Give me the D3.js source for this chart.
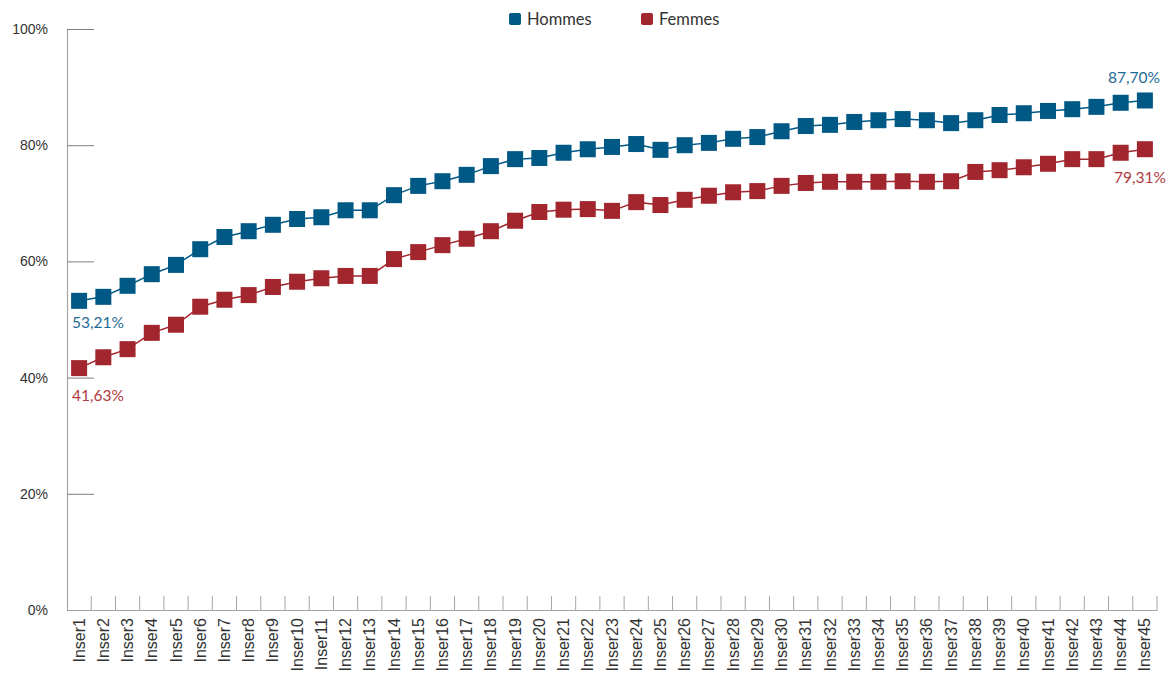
<!DOCTYPE html>
<html>
<head>
<meta charset="utf-8">
<script src="https://cdn.jsdelivr.net/npm/d3@7"></script>
<style>
  body { margin: 0; background: #fff; }
  svg { font-family: Lato, "Open Sans", sans-serif; }
</style>
</head>
<body>
<svg width="1171" height="673"></svg>
<script>
// Categories
const categories = d3.range(1, 46).map((i) => 'Inser' + i);

// Series values (%)
const hommes = [
    53.21, 53.9, 55.8, 57.8, 59.4, 62.1, 64.2, 65.2, 66.3, 67.3,
    67.6, 68.8, 68.8, 71.4, 73.0, 73.8, 74.9, 76.4, 77.6, 77.8,
    78.7, 79.3, 79.7, 80.2, 79.2, 80.0, 80.4, 81.1, 81.4, 82.4,
    83.3, 83.5, 84.0, 84.3, 84.5, 84.3, 83.8, 84.3, 85.2, 85.5,
    85.9, 86.2, 86.6, 87.3, 87.70
];
const femmes = [
    41.63, 43.5, 44.9, 47.7, 49.1, 52.2, 53.4, 54.2, 55.6, 56.5,
    57.1, 57.5, 57.5, 60.4, 61.6, 62.8, 63.9, 65.2, 67.0, 68.5,
    68.9, 69.0, 68.7, 70.2, 69.7, 70.6, 71.3, 71.9, 72.1, 73.0,
    73.5, 73.7, 73.7, 73.7, 73.8, 73.7, 73.8, 75.4, 75.7, 76.2,
    76.8, 77.6, 77.6, 78.7, 79.31
];

// Y tick labels
const yTicks = [0, 20, 40, 60, 80, 100];

const series = [
    { name: 'Hommes', values: hommes, color: '#005885' },
    { name: 'Femmes', values: femmes, color: '#a2262e' },
];

const svg = d3.select('svg');
const margin = { left: 67, right: 14, top: 29, bottom: 63 };
const width = 1171, height = 673;

// Scales
const x = d3.scaleBand().domain(categories).range([margin.left, width - margin.right]);
const y = d3.scaleLinear().domain([0, 100]).range([height - margin.bottom, margin.top]);

// Y axis
const yAxis = svg.append('g').attr('transform', `translate(${margin.left},0)`)
    .call(d3.axisRight(y).tickValues(yTicks).tickSize(27).tickFormat((d) => d + '%'));
yAxis.select('.domain').attr('stroke', '#a6a6a6').attr('stroke-width', 1.2);
yAxis.selectAll('.tick line').attr('stroke', '#7f7f7f');
yAxis.selectAll('.tick text')
    .attr('x', -19).attr('dy', '0.32em').attr('text-anchor', 'end')
    .attr('fill', '#333').style('font-size', '14px');

// X axis
const xAxis = svg.append('g').attr('transform', `translate(0,${y(0)})`)
    .call(d3.axisBottom(x).tickSize(0).tickSizeOuter(0));
xAxis.select('.domain').attr('stroke', '#a6a6a6').attr('stroke-width', 1.2);
xAxis.selectAll('.tick text')
    .attr('transform', 'rotate(-90)')
    .attr('x', -8).attr('y', 0).attr('dy', '0.35em')
    .attr('text-anchor', 'end')
    .attr('fill', '#333').style('font-size', '16px');

// Category separators
svg.append('g').selectAll('line')
    .data(categories)
    .join('line')
    .attr('x1', (d) => x(d) + x.bandwidth())
    .attr('x2', (d) => x(d) + x.bandwidth())
    .attr('y1', y(0))
    .attr('y2', y(0) - 14)
    .attr('stroke', '#a6a6a6');

// Lines and markers
const line = d3.line()
    .x((d, i) => x(categories[i]) + x.bandwidth() / 2)
    .y((d) => y(d));

series.forEach((s) => {
    svg.append('path')
        .datum(s.values)
        .attr('fill', 'none')
        .attr('stroke', s.color)
        .attr('stroke-width', 1.5)
        .attr('d', line);
    svg.append('g').selectAll('rect')
        .data(s.values)
        .join('rect')
        .attr('x', (d, i) => x(categories[i]) + x.bandwidth() / 2 - 8)
        .attr('y', (d) => y(d) - 8)
        .attr('width', 16)
        .attr('height', 16)
        .attr('fill', s.color);
});

// Data labels on first and last points
const fmt = (v) => v.toFixed(2).replace('.', ',') + '%';
const first = categories[0], last = categories[categories.length - 1];
const labels = [
    { text: fmt(hommes[0]), x: x(first) + 5, y: y(hommes[0]) + 27, anchor: 'start', color: '#1f6a94' },
    { text: fmt(femmes[0]), x: x(first) + 5, y: y(femmes[0]) + 33, anchor: 'start', color: '#b03a40' },
    { text: fmt(hommes[44]), x: x(last) + x.bandwidth() + 3, y: y(hommes[44]) - 17, anchor: 'end', color: '#1f6a94' },
    { text: fmt(femmes[44]), x: x(last) + x.bandwidth() + 9, y: y(femmes[44]) + 34, anchor: 'end', color: '#b03a40' },
];
svg.append('g').selectAll('text')
    .data(labels)
    .join('text')
    .attr('x', (d) => d.x)
    .attr('y', (d) => d.y)
    .attr('text-anchor', (d) => d.anchor)
    .attr('fill', (d) => d.color)
    .style('font-size', '15.5px')
    .text((d) => d.text);

// Legend
const legend = svg.append('g').selectAll('g')
    .data(series)
    .join('g')
    .attr('transform', (d, i) => `translate(${509 + i * 132},13)`);
legend.append('rect')
    .attr('width', 12).attr('height', 12).attr('rx', 2)
    .attr('fill', (d) => d.color);
legend.append('text')
    .attr('x', 18).attr('y', 12)
    .attr('fill', '#333')
    .style('font-size', '16.5px')
    .text((d) => d.name);
</script>
</body>
</html>
